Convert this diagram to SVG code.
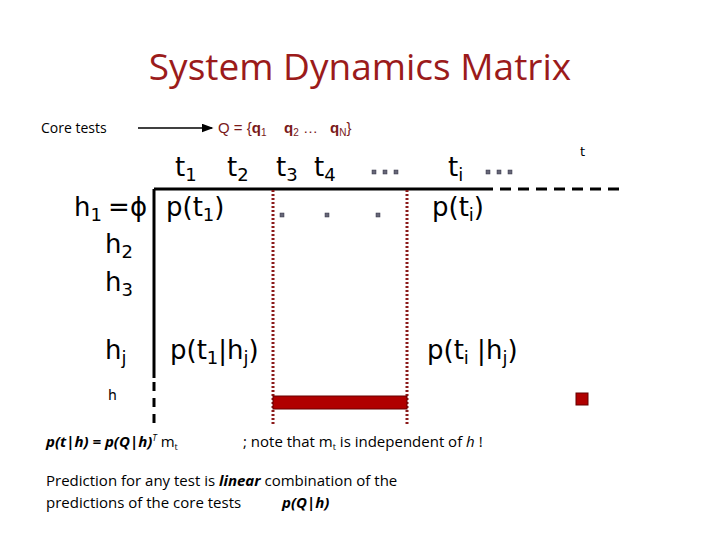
<svg xmlns="http://www.w3.org/2000/svg" width="720" height="540" viewBox="0 0 720 540">
<style>
.t{font-family:"DejaVu Sans",sans-serif;fill:#000}
.s{font-family:"Open Sans","DejaVu Sans",sans-serif;fill:#000}
.red{stroke:#8B1A1A;stroke-width:3;stroke-dasharray:2,2}
.dot{fill:#667;stroke:#334;stroke-width:0.5}
</style>
<defs><marker id="ar" markerWidth="8" markerHeight="6" refX="7" refY="3" orient="auto"><path d="M0,0L8,3L0,6z" fill="#000"/></marker></defs>
<rect width="720" height="540" fill="#fff"/>
<text x="360" y="80" text-anchor="middle" font-family="'Open Sans','DejaVu Sans',sans-serif" font-size="37" fill="#9B1B1B">System Dynamics Matrix</text>
<g id="coretests"><text class="s" x="41" y="133" font-size="14">Core tests</text></g>
<g id="Q"><text x="218" y="133" font-family="'Liberation Sans',sans-serif" font-size="15" fill="#7A1A1A">Q = {<tspan font-weight="bold">q</tspan><tspan font-size="10" dy="3">1</tspan><tspan x="284" dy="-3" font-weight="bold">q</tspan><tspan font-size="10" dy="3">2</tspan><tspan dy="-3"> …  </tspan><tspan x="330" font-weight="bold">q</tspan><tspan font-size="10" dy="3">N</tspan><tspan dy="-3">}</tspan></text></g>
<g id="connectors">
<line x1="138" y1="128" x2="212" y2="128" stroke="#000" stroke-width="1.5" marker-end="url(#ar)"/>
<line x1="154" y1="189" x2="482" y2="189" stroke="#000" stroke-width="3"/>
<line x1="482" y1="189" x2="625" y2="189" stroke="#000" stroke-width="3" stroke-dasharray="11,7"/>
<line x1="154" y1="189" x2="154" y2="378" stroke="#000" stroke-width="3"/>
<line x1="154" y1="382" x2="154" y2="426" stroke="#000" stroke-width="3" stroke-dasharray="9,7"/>
<line class="red" x1="273" y1="190" x2="273" y2="426"/>
<line class="red" x1="407" y1="190" x2="407" y2="426"/>
</g>
<g id="bar"><rect x="273" y="396" width="134" height="13" fill="#B00000" stroke="#600" stroke-width="1"/></g>
<g id="sq"><rect x="576" y="393" width="12" height="12" fill="#B00000" stroke="#600" stroke-width="1"/></g>
<g id="cols" class="t" font-size="26">
<text x="175" y="176">t<tspan font-size="18" dy="5">1</tspan></text>
<text x="227" y="176">t<tspan font-size="18" dy="5">2</tspan></text>
<text x="276" y="176">t<tspan font-size="18" dy="5">3</tspan></text>
<text x="314" y="176">t<tspan font-size="18" dy="5">4</tspan></text>
<text x="448" y="176">t<tspan font-size="18" dy="5">i</tspan></text>
</g>
<g id="dots">
<rect class="dot" x="372" y="170" width="4" height="4"/><rect class="dot" x="383" y="170" width="4" height="4"/><rect class="dot" x="394" y="170" width="4" height="4"/>
<rect class="dot" x="486" y="170" width="4" height="4"/><rect class="dot" x="497" y="170" width="4" height="4"/><rect class="dot" x="508" y="170" width="4" height="4"/>
<rect class="dot" x="280" y="213" width="4" height="4"/><rect class="dot" x="325" y="213" width="4" height="4"/><rect class="dot" x="376" y="213" width="4" height="4"/>
</g>
<g id="t"><text class="t" x="580" y="156" font-size="13">t</text></g>
<g id="rows" class="t" font-size="26">
<text x="74" y="216">h<tspan font-size="18" dy="5">1</tspan></text>
<text x="108" y="216">=</text>
<text x="130" y="216">ϕ</text>
<text x="166" y="216">p(t<tspan font-size="18" dy="5">1</tspan><tspan dy="-5">)</tspan></text>
<text x="432" y="216">p(t<tspan font-size="18" dy="5">i</tspan><tspan dy="-5">)</tspan></text>
<text x="105" y="253">h<tspan font-size="18" dy="5">2</tspan></text>
<text x="105" y="291">h<tspan font-size="18" dy="5">3</tspan></text>
<text x="105" y="359">h<tspan font-size="18" dy="5">j</tspan></text>
<text x="170" y="359">p(t<tspan font-size="18" dy="5">1</tspan><tspan dy="-5">|h</tspan><tspan font-size="18" dy="5">j</tspan><tspan dy="-5">)</tspan></text>
<text x="427" y="359">p(t<tspan font-size="18" dy="5">i</tspan><tspan dy="-5"> |h</tspan><tspan font-size="18" dy="5">j</tspan><tspan dy="-5">)</tspan></text>
</g>
<g id="h"><text class="t" x="108" y="400" font-size="14">h</text></g>
<g id="formula">
<text class="s" x="46" y="447" font-size="15"><tspan font-weight="bold" font-style="italic">p(t|h) = p(Q|h)</tspan><tspan font-size="9" dy="-6" font-style="italic">T</tspan><tspan dy="6"> m</tspan><tspan font-size="9" dy="3">t</tspan></text>
<text class="s" x="243" y="447" font-size="15">; note that m<tspan font-size="9" dy="3">t</tspan><tspan dy="-3"> is independent of </tspan><tspan font-style="italic">h</tspan> !</text>
</g>
<g id="pred" class="s" font-size="15">
<text x="46" y="486">Prediction for any test is <tspan font-weight="bold" font-style="italic">linear</tspan> combination of the</text>
<text x="46" y="508">predictions of the core tests</text>
<text x="282" y="508" font-weight="bold" font-style="italic">p(Q|h)</text>
</g>
</svg>
